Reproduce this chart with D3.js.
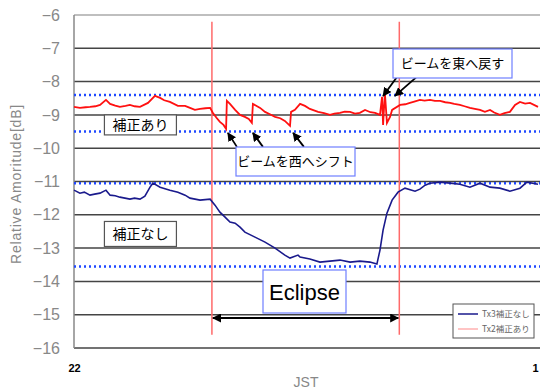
<!DOCTYPE html>
<html>
<head>
<meta charset="utf-8">
<script src="https://cdn.jsdelivr.net/npm/d3@7"></script>
<style>
  body { margin: 0; background: #fff; }
  svg { display: block; font-family: "Liberation Sans", Arial, sans-serif; }
</style>
</head>
<body>
<svg id="chart" width="540" height="390"></svg>
<script>
// time in minutes after 22:00 JST, amplitude in dB
var redT = [0, 2.3, 4.5, 6.2, 8.3, 10.1, 12.4, 14.0, 16.0, 17.8, 20.0, 21.7, 23.5, 25.6, 28.7, 31.4, 33.4, 35.0, 37.2, 40.3, 43.1, 45.0, 46.9, 48.9, 51.0, 52.8,
  53.9, 55.2, 56.6, 58.0, 59.0, 59.3, 60.5, 62.5, 64.4, 66.3, 67.8, 69.0, 69.4, 72.2, 74.1, 76.0, 78.0, 80.0, 81.8, 83.8, 84.2, 85.7, 87.7, 89.6, 91.5, 94.7,
  97.0, 99.3, 101.0, 103.2, 105.0, 107.1, 109.0, 110.9, 112.9, 115.0, 116.8, 118.7, 119.5, 119.9, 120.6, 121.4, 122.6, 123.4,
  126.5, 128.5, 130.3, 132.0, 134.2, 136.0, 138.1, 140.0, 142.0, 144.0, 145.9, 147.5, 149.7, 151.5, 153.6, 155.5, 157.5, 159.4, 161.4, 163.0, 165.2, 167.0, 169.1, 171.1, 173.0, 175.0, 176.9, 180];
var redV = [-8.76, -8.79, -8.77, -8.76, -8.74, -8.70, -8.55, -8.67, -8.72, -8.76, -8.73, -8.70, -8.74, -8.76, -8.64, -8.43, -8.49, -8.56, -8.61, -8.73, -8.73, -8.79, -8.85, -8.82, -8.80, -8.79,
  -8.94, -9.08, -9.21, -9.30, -9.42, -8.58, -8.67, -8.85, -9.00, -9.06, -9.12, -9.24, -8.67, -8.79, -8.91, -8.98, -9.06, -9.10, -9.18, -9.33, -8.91, -8.85, -8.67, -8.73, -8.82, -8.91,
  -8.95, -9.00, -8.96, -8.94, -8.90, -8.91, -8.96, -8.94, -8.85, -8.92, -8.94, -9.00, -8.46, -9.30, -8.34, -9.24, -9.06, -8.85,
  -8.70, -8.68, -8.64, -8.60, -8.55, -8.57, -8.55, -8.58, -8.58, -8.62, -8.64, -8.67, -8.70, -8.74, -8.79, -8.82, -8.85, -8.91, -8.85, -8.93, -9.00, -8.95, -8.91, -8.70, -8.61, -8.66, -8.64, -8.76];

var blueT = [0, 2.3, 4.0, 6.2, 8.0, 10.1, 12.4, 14.0, 16.0, 17.8, 21.7, 23.5, 25.6, 27.5, 29.5, 30.6, 33.4, 37.2, 40.3, 43.1, 45.0, 48.9, 52.8,
  54.7, 56.6, 58.6, 60.5, 62.5, 64.4, 66.3, 70.2, 74.1, 78.0, 81.8, 83.8, 86.9, 87.7, 91.5, 95.4, 99.3, 103.2, 107.1, 110.9, 114.8, 117.5,
  118.7, 119.9, 121.4, 123.4, 125.7, 128.4, 132.3, 134.2, 136.2, 138.1, 142.0, 145.9, 149.7, 153.6, 157.5, 161.4, 165.2, 169.1, 173.0, 175.7, 180];
var blueV = [-11.26, -11.35, -11.32, -11.41, -11.38, -11.35, -11.26, -11.41, -11.43, -11.47, -11.53, -11.50, -11.53, -11.44, -11.17, -11.05, -11.17, -11.26, -11.32, -11.41, -11.50, -11.56, -11.53,
  -11.71, -11.92, -12.07, -12.22, -12.25, -12.37, -12.52, -12.67, -12.82, -13.00, -13.21, -13.30, -13.21, -13.27, -13.33, -13.42, -13.39, -13.36, -13.42, -13.39, -13.42, -13.48,
  -13.06, -12.46, -11.95, -11.56, -11.32, -11.20, -11.29, -11.23, -11.11, -11.05, -11.02, -11.05, -11.08, -11.17, -11.05, -11.17, -11.20, -11.29, -11.20, -11.02, -11.08];

var yTicks = [-6, -7, -8, -9, -10, -11, -12, -13, -14, -15, -16];
var xTickVals = [0, 180];
var xTickLabels = ["22", "1"];
var refLevels = [-8.4, -9.5, -11.05, -13.55];
var eclipseStart = 53.5, eclipseEnd = 126.2;

var seriesNames = ["Tx3補正なし", "Tx2補正あり"];

var svg = d3.select("#chart");

var x = d3.scaleLinear().domain([0, 180]).range([74, 538]);
var y = d3.scaleLinear().domain([-16, -6]).range([348, 15]);

// gridlines
svg.append("g").selectAll("line")
  .data(yTicks)
  .enter().append("line")
  .attr("x1", x(0)).attr("x2", 540)
  .attr("y1", function(d) { return y(d); })
  .attr("y2", function(d) { return y(d); })
  .attr("stroke", function(d) { return d === -6 ? "#aaa" : "#444"; })
  .attr("stroke-width", 1.5);

// left axis line
svg.append("line")
  .attr("x1", x(0)).attr("x2", x(0))
  .attr("y1", y(-6)).attr("y2", y(-16))
  .attr("stroke", "#888").attr("stroke-width", 1.5);

// y axis labels
var yAxis = svg.append("g")
  .attr("transform", "translate(" + (x(0) - 6) + ",0)")
  .call(d3.axisLeft(y).tickValues(yTicks).tickSize(0).tickPadding(8).tickFormat(d3.format("d")));
yAxis.select(".domain").remove();
yAxis.selectAll("text")
  .attr("fill", "#888")
  .style("font-size", "16px")
  .style("font-family", "'Liberation Sans', Arial, sans-serif");

// x axis labels
var xAxis = svg.append("g")
  .attr("transform", "translate(0," + (y(-16) + 13) + ")")
  .call(d3.axisBottom(x).tickValues(xTickVals).tickSize(0)
    .tickFormat(function(d, i) { return xTickLabels[i]; }));
xAxis.select(".domain").remove();
xAxis.selectAll("text")
  .attr("fill", "#000")
  .attr("dx", function(d, i) { return i === 1 ? "-3" : "0"; })
  .style("font-size", "11px")
  .style("font-weight", "bold");

svg.append("text")
  .attr("x", 306).attr("y", 387)
  .attr("text-anchor", "middle")
  .attr("fill", "#888")
  .style("font-size", "14px")
  .text("JST");

svg.append("text")
  .attr("transform", "translate(21,184) rotate(-90)")
  .attr("text-anchor", "middle")
  .attr("fill", "#888")
  .style("font-size", "14px")
  .style("letter-spacing", "0.8px")
  .text("Relative Amoritude[dB]");

// dotted reference levels
svg.append("g").selectAll("line")
  .data(refLevels)
  .enter().append("line")
  .attr("x1", x(0)).attr("x2", 540)
  .attr("y1", function(d) { return y(d); })
  .attr("y2", function(d) { return y(d); })
  .attr("stroke", "#1f48ff")
  .attr("stroke-width", 2.5)
  .attr("stroke-dasharray", "2,3");

// eclipse markers
svg.append("g").selectAll("line")
  .data([eclipseStart, eclipseEnd])
  .enter().append("line")
  .attr("x1", function(d) { return x(d); })
  .attr("x2", function(d) { return x(d); })
  .attr("y1", y(-6.2)).attr("y2", y(-15.6))
  .attr("stroke", "#ff6a6a")
  .attr("stroke-width", 1.5);

// series
var line = d3.line()
  .x(function(d) { return x(d[0]); })
  .y(function(d) { return y(d[1]); });

var redData = redT.map(function(t, i) { return [t, redV[i]]; });
var blueData = blueT.map(function(t, i) { return [t, blueV[i]]; });

svg.append("path")
  .datum(blueData)
  .attr("d", line)
  .attr("fill", "none")
  .attr("stroke", "#1a1a8c")
  .attr("stroke-width", 1.6);

svg.append("path")
  .datum(redData)
  .attr("d", line)
  .attr("fill", "none")
  .attr("stroke", "#ff1010")
  .attr("stroke-width", 1.8);

// arrow markers
var defs = svg.append("defs");
defs.append("marker")
  .attr("id", "head")
  .attr("viewBox", "0 0 10 10")
  .attr("refX", 9).attr("refY", 5)
  .attr("markerWidth", 9).attr("markerHeight", 9)
  .attr("markerUnits", "userSpaceOnUse")
  .attr("orient", "auto-start-reverse")
  .append("path")
  .attr("d", "M0,0 L10,5 L0,10 Z")
  .attr("fill", "#000");

// annotation boxes
function box(x0, y0, w, h, stroke, label, size) {
  svg.append("rect")
    .attr("x", x0).attr("y", y0)
    .attr("width", w).attr("height", h)
    .attr("fill", "#fff")
    .attr("stroke", stroke)
    .attr("stroke-width", 1.2);
  svg.append("text")
    .attr("x", x0 + w / 2).attr("y", y0 + h / 2)
    .attr("dy", "0.36em")
    .attr("text-anchor", "middle")
    .attr("fill", "#000")
    .style("font-size", size + "px")
    .style("font-family", "'Noto Sans CJK JP', sans-serif")
    .text(label);
}

box(x(11.8), y(-9.0), 72, 20, "#555", "補正あり", 14);
box(x(11.8), y(-12.2), 72, 25, "#555", "補正なし", 14);

// arrows from box to the beam shifts
var westArrows = [[63.2, -9.96, 59.7, -9.54], [73.3, -9.96, 69.4, -9.54], [89.2, -9.96, 85.0, -9.54]];
var eastArrows = [[125.3, -7.86, 119.9, -8.43], [133.4, -7.83, 124.5, -8.43]];

svg.append("g").selectAll("line")
  .data(westArrows.concat(eastArrows))
  .enter().append("line")
  .attr("x1", function(d) { return x(d[0]); })
  .attr("y1", function(d) { return y(d[1]); })
  .attr("x2", function(d) { return x(d[2]); })
  .attr("y2", function(d) { return y(d[3]); })
  .attr("stroke", "#000")
  .attr("stroke-width", 1.8)
  .attr("marker-end", "url(#head)");

box(236, 147, 119, 29, "#6f7fff", "ビームを西へシフト", 13);
box(393, 49, 119, 29, "#6f7fff", "ビームを東へ戻す", 13);

// eclipse span arrow
svg.append("line")
  .attr("x1", x(eclipseStart) + 1).attr("x2", x(eclipseEnd) - 1)
  .attr("y1", 318).attr("y2", 318)
  .attr("stroke", "#000")
  .attr("stroke-width", 2)
  .attr("marker-start", "url(#head)")
  .attr("marker-end", "url(#head)");

svg.append("rect")
  .attr("x", 263).attr("y", 270)
  .attr("width", 83).attr("height", 43)
  .attr("fill", "#fff")
  .attr("stroke", "#6f7fff")
  .attr("stroke-width", 1.2);
svg.append("text")
  .attr("x", 304.5).attr("y", 292)
  .attr("dy", "0.36em")
  .attr("text-anchor", "middle")
  .attr("fill", "#000")
  .style("font-size", "22px")
  .text("Eclipse");

// legend
var leg = svg.append("g").attr("transform", "translate(453,304)");
leg.append("rect")
  .attr("width", 81).attr("height", 34)
  .attr("fill", "#fff")
  .attr("stroke", "#555")
  .attr("stroke-width", 1);
var legColors = ["#1a1a8c", "#ffb0b0"];
seriesNames.forEach(function(name, i) {
  leg.append("line")
    .attr("x1", 5).attr("x2", 25)
    .attr("y1", 10 + i * 15).attr("y2", 10 + i * 15)
    .attr("stroke", legColors[i])
    .attr("stroke-width", 1.5);
  leg.append("text")
    .attr("x", 29).attr("y", 10 + i * 15)
    .attr("dy", "0.35em")
    .attr("fill", "#666")
    .style("font-size", "8.5px")
    .style("font-family", "'Noto Sans CJK JP', sans-serif")
    .text(name);
});
</script>
</body>
</html>
